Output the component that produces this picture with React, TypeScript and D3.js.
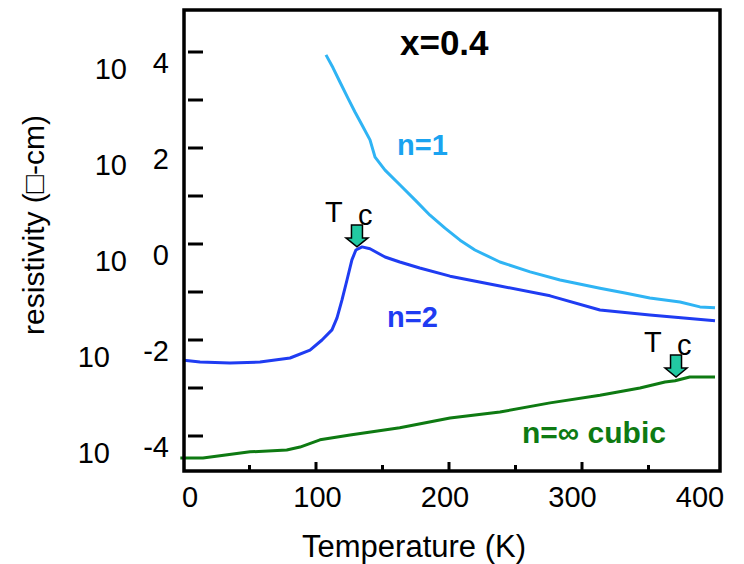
import { useEffect, useRef } from 'react'
import * as d3 from 'd3'

// temperature (K) and log10 resistivity
const n1Temp = [107.5, 112.8, 118, 124, 129.3, 134.6, 140.6, 144.4, 151.9, 163.2, 174.4, 185.7, 197, 208.3, 219.5, 238.3, 261, 283.5, 313.5, 332.3, 351, 373.7, 388.7, 400]
const n1Log = [3.94, 3.67, 3.375, 3.04, 2.75, 2.48, 2.17, 1.81, 1.54, 1.23, 0.92, 0.6, 0.33, 0.08, -0.125, -0.375, -0.58, -0.75, -0.92, -1.02, -1.125, -1.21, -1.31, -1.33]

const n2Temp = [0.75, 12.8, 35.3, 57.9, 80.5, 95.5, 104.5, 112, 115.8, 119.5, 123.3, 127, 130, 134.6, 140.6, 151.9, 163, 178, 200.8, 238.3, 276, 313.5, 351, 400]
const n2Log = [-2.42, -2.46, -2.48, -2.46, -2.375, -2.21, -2.0, -1.79, -1.54, -1.17, -0.75, -0.33, -0.125, -0.06, -0.1, -0.27, -0.375, -0.5, -0.67, -0.875, -1.08, -1.375, -1.48, -1.6]

const cubicTemp = [-2, 15, 50.4, 78, 88, 103, 125.6, 163, 200.8, 238.3, 276, 313.5, 343.6, 362.4, 370, 381, 400]
const cubicLog = [-4.46, -4.46, -4.33, -4.29, -4.23, -4.08, -3.98, -3.83, -3.625, -3.5, -3.31, -3.15, -3.0, -2.875, -2.85, -2.77, -2.77]

const tcTemp = [130.8, 370.7]
const tcLog = [-0.06, -2.77]

const xTicks = [0, 100, 200, 300, 400]
const xMinorTicks = [50, 150, 250, 350]
const yDecades = [4, 3, 2, 1, 0, -1, -2, -3, -4]
const yLabels = [4, 2, 0, -2, -4]

const FONT = '"Liberation Sans", Arial, Helvetica, sans-serif'

export default function App() {
  const svgRef = useRef<SVGSVGElement>(null)

  useEffect(() => {
    if (!svgRef.current) return
    const svg = d3.select(svgRef.current)
    svg.selectAll('*').remove()

    const x = d3.scaleLinear().domain([0, 400]).range([183, 715])
    const xLabel = d3.scaleLinear().domain([0, 400]).range([190, 700])
    const y = d3.scaleLinear().domain([0, 4]).range([244, 52])

    const frame = { left: 184, right: 720, top: 10, bottom: 471 }

    // curves
    const line = d3.line<[number, number]>()
      .x(d => x(d[0]))
      .y(d => y(d[1]))
      .curve(d3.curveLinear)

    const series = [
      { t: n1Temp, v: n1Log, color: '#2fb4f4' },
      { t: n2Temp, v: n2Log, color: '#1f3cf2' },
      { t: cubicTemp, v: cubicLog, color: '#0e7a12' },
    ]
    series.forEach(s => {
      svg.append('path')
        .attr('d', line(s.t.map((t, i) => [t, s.v[i]] as [number, number])))
        .attr('fill', 'none')
        .attr('stroke', s.color)
        .attr('stroke-width', 3)
        .attr('stroke-linejoin', 'round')
    })

    // frame
    svg.append('rect')
      .attr('x', frame.left)
      .attr('y', frame.top)
      .attr('width', frame.right - frame.left)
      .attr('height', frame.bottom - frame.top)
      .attr('fill', 'none')
      .attr('stroke', 'black')
      .attr('stroke-width', 3.5)

    // y ticks
    svg.selectAll('.ytick')
      .data(yDecades)
      .enter()
      .append('line')
      .attr('x1', 188)
      .attr('x2', 203)
      .attr('y1', d => y(d))
      .attr('y2', d => y(d))
      .attr('stroke', 'black')
      .attr('stroke-width', 3)

    // x ticks
    svg.selectAll('.xtick')
      .data(xTicks.slice(1, -1))
      .enter()
      .append('line')
      .attr('x1', d => x(d))
      .attr('x2', d => x(d))
      .attr('y1', frame.bottom)
      .attr('y2', frame.bottom - 9)
      .attr('stroke', 'black')
      .attr('stroke-width', 3)
    svg.selectAll('.xminor')
      .data(xMinorTicks)
      .enter()
      .append('line')
      .attr('x1', d => x(d))
      .attr('x2', d => x(d))
      .attr('y1', frame.bottom)
      .attr('y2', frame.bottom - 6)
      .attr('stroke', 'black')
      .attr('stroke-width', 3)

    // x tick labels
    svg.selectAll('.xlabel')
      .data(xTicks)
      .enter()
      .append('text')
      .attr('x', d => xLabel(d))
      .attr('y', 507)
      .attr('text-anchor', 'middle')
      .attr('font-family', FONT)
      .attr('font-size', 29)
      .text(d => d)

    // y tick labels: "10" and exponent side by side
    const yl = svg.selectAll('.ylabel').data(yLabels).enter().append('g')
    yl.append('text')
      .attr('x', d => (d < 0 ? 110 : 127))
      .attr('y', d => y(d) + 27)
      .attr('text-anchor', 'end')
      .attr('font-family', FONT)
      .attr('font-size', 29)
      .text('10')
    yl.append('text')
      .attr('x', 169)
      .attr('y', d => y(d) + 21)
      .attr('text-anchor', 'end')
      .attr('font-family', FONT)
      .attr('font-size', 29)
      .text(d => d)

    // axis titles
    svg.append('text')
      .attr('x', 414)
      .attr('y', 557)
      .attr('text-anchor', 'middle')
      .attr('font-family', FONT)
      .attr('font-size', 31)
      .text('Temperature (K)')

    svg.append('text')
      .attr('transform', 'translate(44,225) rotate(-90)')
      .attr('text-anchor', 'middle')
      .attr('font-family', FONT)
      .attr('font-size', 30)
      .text('resistivity (\u25A1-cm)')

    // annotations
    svg.append('text')
      .attr('x', 400)
      .attr('y', 55)
      .attr('font-family', FONT)
      .attr('font-size', 35)
      .attr('font-weight', 'bold')
      .text('x=0.4')

    const labels = [
      { text: 'n=1', x: 397, y: 155, size: 29, color: '#1aa3f0' },
      { text: 'n=2', x: 387, y: 327, size: 29, color: '#1f3cf2' },
      { text: 'n=\u221E cubic', x: 522, y: 443, size: 30, color: '#0e7a12' },
    ]
    labels.forEach(l => {
      svg.append('text')
        .attr('x', l.x)
        .attr('y', l.y)
        .attr('fill', l.color)
        .attr('font-family', FONT)
        .attr('font-size', l.size)
        .attr('font-weight', 'bold')
        .text(l.text)
    })

    // Tc arrows
    tcTemp.forEach((t, i) => {
      const cx = x(t)
      const tip = y(tcLog[i])
      const g = svg.append('g')
      g.append('path')
        .attr('d', `M${cx - 5.5},${tip - 22} L${cx + 5.5},${tip - 22} L${cx + 5.5},${tip - 9} L${cx + 11},${tip - 9} L${cx},${tip} L${cx - 11},${tip - 9} L${cx - 5.5},${tip - 9} Z`)
        .attr('fill', '#22c9a2')
        .attr('stroke', 'black')
        .attr('stroke-width', 1.5)
        .attr('stroke-linejoin', 'miter')
      g.append('text')
        .attr('x', cx - 32)
        .attr('y', tip - 25)
        .attr('font-family', FONT)
        .attr('font-size', 29)
        .text('T')
      g.append('text')
        .attr('x', cx + 1)
        .attr('y', tip - 22)
        .attr('font-family', FONT)
        .attr('font-size', 29)
        .text('c')
    })
  }, [])

  return (
    <svg
      ref={svgRef}
      width={744}
      height={564}
      style={{ position: 'absolute', left: 0, top: 0, background: 'white' }}
    />
  )
}
